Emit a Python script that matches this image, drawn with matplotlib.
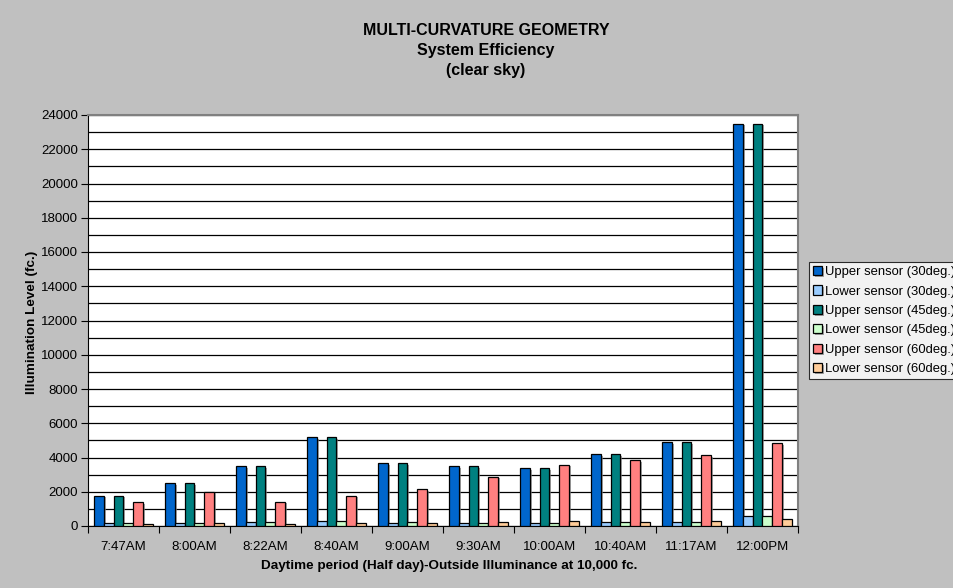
import matplotlib
matplotlib.use("Agg")
import matplotlib.pyplot as plt
import matplotlib.patheffects as pe
import numpy as np

plt.rcParams['font.family'] = ['Liberation Sans', 'DejaVu Sans']

times = ["7:47AM", "8:00AM", "8:22AM", "8:40AM", "9:00AM",
         "9:30AM", "10:00AM", "10:40AM", "11:17AM", "12:00PM"]

series_names = ["Upper sensor (30deg.)", "Lower sensor (30deg.)",
                "Upper sensor (45deg.)", "Lower sensor (45deg.)",
                "Upper sensor (60deg.)", "Lower sensor (60deg.)"]

upper_30 = [1770, 2490, 3500, 5180, 3660, 3500, 3390, 4200, 4880, 23500]
lower_30 = [150, 150, 210, 270, 195, 155, 155, 215, 260, 565]
upper_45 = [1770, 2490, 3500, 5180, 3660, 3500, 3390, 4200, 4880, 23500]
lower_45 = [170, 170, 215, 270, 215, 155, 155, 215, 250, 565]
upper_60 = [1380, 2000, 1420, 1770, 2140, 2880, 3580, 3850, 4120, 4850]
lower_60 = [130, 160, 130, 175, 175, 215, 270, 250, 300, 390]

series = [upper_30, lower_30, upper_45, lower_45, upper_60, lower_60]
colors = ["#0066CC", "#99CCFF", "#008080", "#CCFFCC", "#FF8080", "#FFCC99"]

fig = plt.figure(figsize=(9.54, 5.88), dpi=100)
fig.patch.set_facecolor("#C0C0C0")

ax = fig.add_axes([88 / 954, 62 / 588, 710 / 954, 411 / 588])
ax.set_facecolor("white")

n = len(series)
x = np.arange(len(times))
bar_w = 0.137
offsets = (np.arange(n) - (n - 1) / 2) * bar_w

shadow = [pe.SimplePatchShadow(offset=(1.2, -1.2), shadow_rgbFace="#808080", alpha=0.7),
          pe.Normal()]
for vals, col, name, off in zip(series, colors, series_names, offsets):
    ax.bar(x + off, vals, width=bar_w, color=col, edgecolor="black",
           linewidth=0.9, label=name, path_effects=shadow, zorder=3)

ax.set_xlim(-0.5, len(times) - 0.5)
ax.set_ylim(0, 24000)
ax.set_yticks(np.arange(0, 24001, 2000))
ax.set_yticks(np.arange(0, 24001, 1000), minor=True)
ax.yaxis.grid(True, which="both", color="black", linewidth=0.9, zorder=0)
ax.tick_params(axis="y", which="minor", length=0)
ax.tick_params(axis="y", which="major", length=5, width=0.8, labelsize=9.5, pad=2)

ax.set_xticks(x)
ax.set_xticklabels(times)
ax.set_xticks(np.arange(-0.5, len(times), 1.0), minor=True)
ax.tick_params(axis="x", which="major", length=0, labelsize=9.5, pad=11)
ax.tick_params(axis="x", which="minor", length=5, width=0.8)

for side in ["top", "right"]:
    ax.spines[side].set_color("#808080")
    ax.spines[side].set_linewidth(1.5)
ax.spines["left"].set_color("black")
ax.spines["bottom"].set_color("black")

fig.text(32 / 954, 1 - 322 / 588, "Illumination Level (fc.)", rotation=90,
         ha="center", va="center", fontsize=9.7, fontweight="bold")
fig.text(449 / 954, 1 - 566 / 588,
         "Daytime period (Half day)-Outside Illuminance at 10,000 fc.",
         ha="center", va="center", fontsize=9.7, fontweight="bold")

for label, ypx in zip(["MULTI-CURVATURE GEOMETRY", "System Efficiency", "(clear sky)"],
                      [29, 49, 69]):
    fig.text(486 / 954, 1 - ypx / 588, label, ha="center", va="center_baseline",
             fontsize=11.5, fontweight="bold")

leg = fig.legend(loc="upper left", bbox_to_anchor=(809 / 954, 1 - 262 / 588),
                 fontsize=9.4, frameon=True, fancybox=False, shadow=False,
                 handlelength=0.7, handleheight=0.7, handletextpad=0.2,
                 labelspacing=0.56, borderpad=0.3, borderaxespad=0.0)
leg.get_frame().set_edgecolor("black")
leg.get_frame().set_linewidth(0.8)
leg.get_frame().set_facecolor("white")

fig.savefig("out.png", dpi=100, facecolor=fig.get_facecolor())
